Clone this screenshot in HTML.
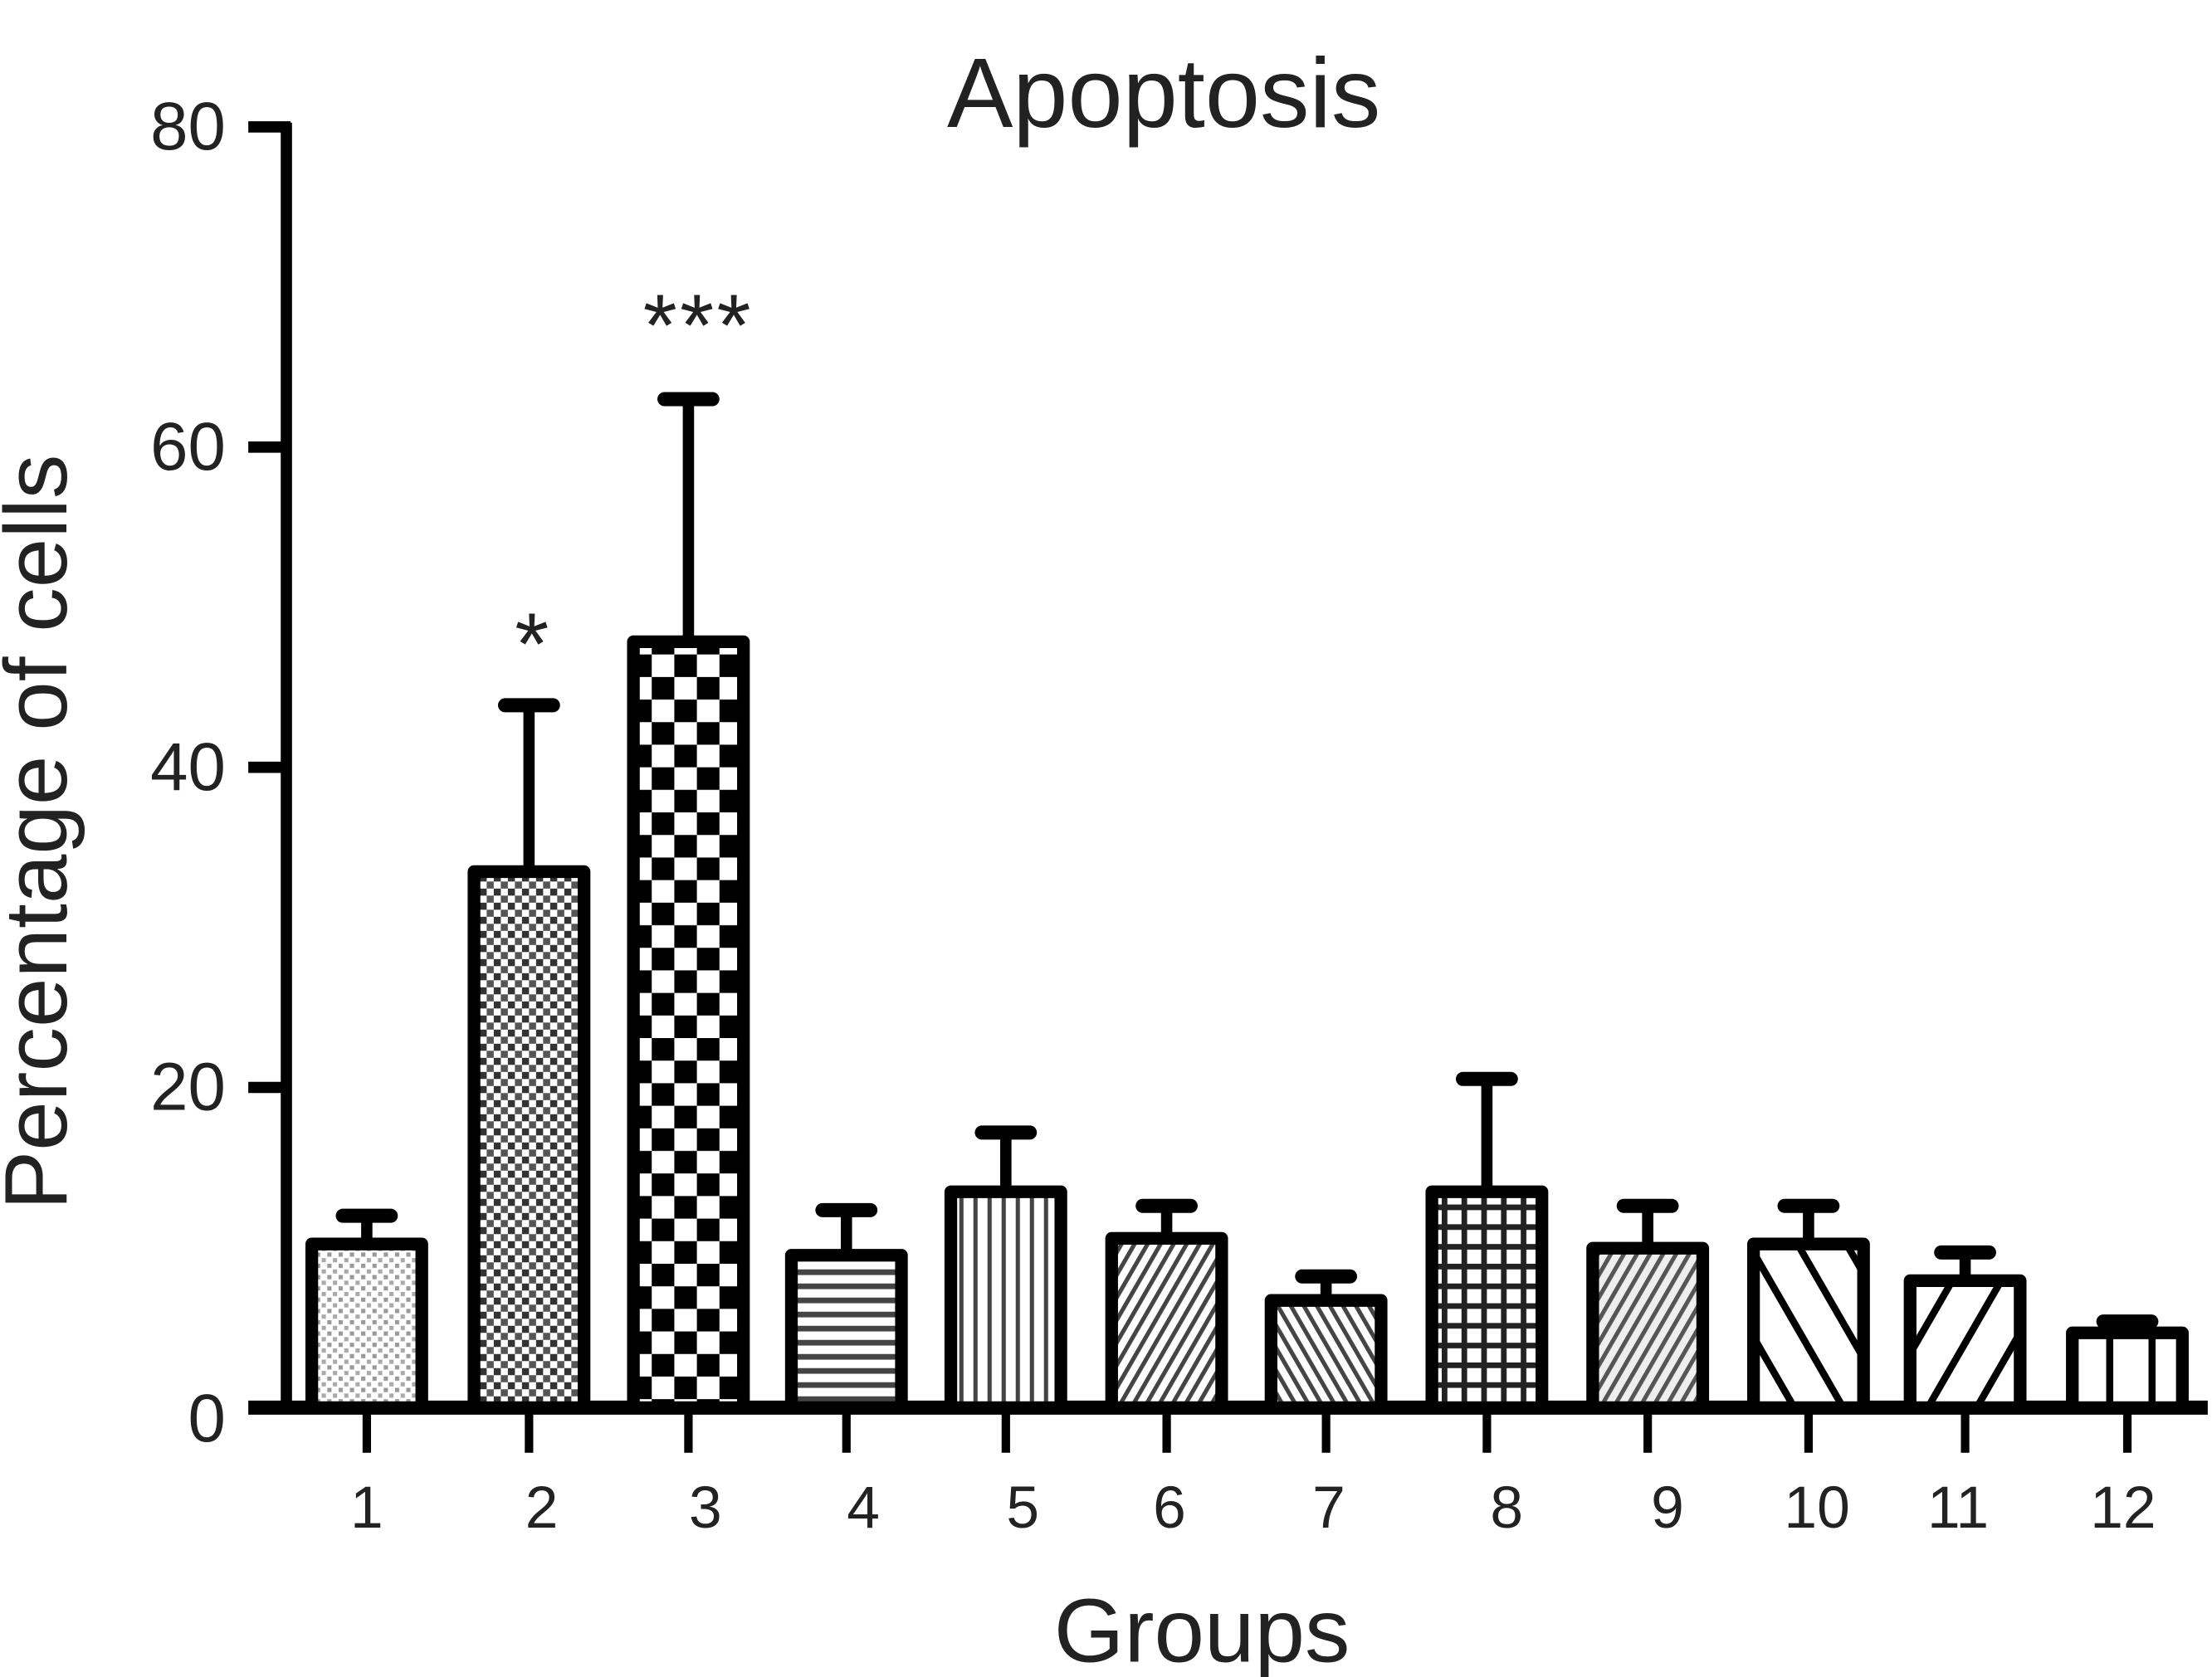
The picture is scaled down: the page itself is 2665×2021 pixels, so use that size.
<!DOCTYPE html>
<html><head><meta charset="utf-8"><style>
html,body{margin:0;padding:0;background:#fff;}
svg{display:block;}
text{font-family:"Liberation Sans",sans-serif;fill:#222;}
</style></head><body>
<svg width="2665" height="2021" viewBox="0 0 1568 1189" preserveAspectRatio="none" xmlns="http://www.w3.org/2000/svg">
<defs>
<pattern id="p1" width="8" height="8" patternUnits="userSpaceOnUse"><rect width="8" height="8" fill="#fff"/><rect width="3" height="3" fill="#999"/><rect x="4" y="4" width="3" height="3" fill="#aaa"/></pattern>
<pattern id="p2" width="10" height="10" patternUnits="userSpaceOnUse"><rect width="10" height="10" fill="#fff"/><rect width="5" height="5" fill="#333"/><rect x="5" y="5" width="5" height="5" fill="#555"/></pattern>
<pattern id="p3" width="32" height="32" patternUnits="userSpaceOnUse" x="462"><rect width="32" height="32" fill="#fff"/><rect width="16" height="16" fill="#000"/><rect x="16" y="16" width="16" height="16" fill="#000"/></pattern>
<pattern id="p4" width="10" height="10" patternUnits="userSpaceOnUse"><rect width="10" height="10" fill="#fff"/><rect y="0" width="10" height="4" fill="#444"/></pattern>
<pattern id="p5" width="10" height="10" patternUnits="userSpaceOnUse"><rect width="10" height="10" fill="#fff"/><rect x="0" width="3" height="10" fill="#444"/></pattern>
<pattern id="p6" width="8" height="8" patternUnits="userSpaceOnUse" patternTransform="rotate(30)"><rect width="8" height="8" fill="#fff"/><rect width="3" height="8" fill="#444"/></pattern>
<pattern id="p7" width="8" height="8" patternUnits="userSpaceOnUse" patternTransform="rotate(-30)"><rect width="8" height="8" fill="#fff"/><rect width="3" height="8" fill="#444"/></pattern>
<pattern id="p8" width="14" height="14" patternUnits="userSpaceOnUse"><rect width="14" height="14" fill="#fff"/><rect width="4" height="14" fill="#222"/><rect width="14" height="4" fill="#222"/></pattern>
<pattern id="p9" width="8" height="8" patternUnits="userSpaceOnUse" patternTransform="rotate(30)"><rect width="8" height="8" fill="#eee"/><rect width="3" height="8" fill="#555"/></pattern>
<pattern id="p10" width="30" height="30" patternUnits="userSpaceOnUse" patternTransform="rotate(-30)"><rect width="30" height="30" fill="#fff"/><rect width="5" height="30" fill="#000"/></pattern>
<pattern id="p11" width="30" height="30" patternUnits="userSpaceOnUse" patternTransform="rotate(30)"><rect width="30" height="30" fill="#fff"/><rect width="5" height="30" fill="#000"/></pattern>
<pattern id="p12" width="30" height="30" patternUnits="userSpaceOnUse" x="1493"><rect width="30" height="30" fill="#fff"/><rect width="5" height="30" fill="#000"/></pattern>
</defs>
<text x="825" y="90" font-size="70" text-anchor="middle">Apoptosis</text>
<g font-size="48" text-anchor="end">
<text x="160" y="106">80</text><text x="160" y="333">60</text><text x="160" y="560">40</text><text x="160" y="787">20</text><text x="160" y="1022">0</text>
</g>
<g stroke="#000" stroke-width="8" fill="none">
<line x1="203" y1="87" x2="203" y2="1001"/>
<line x1="176" y1="90" x2="206" y2="90"/><line x1="176" y1="317" x2="206" y2="317"/><line x1="176" y1="544" x2="206" y2="544"/><line x1="176" y1="771" x2="206" y2="771"/>
<line x1="176" y1="998" x2="1565" y2="998" stroke-width="10"/>
</g>
<g stroke="#000" stroke-width="6">
<line x1="260" y1="998" x2="260" y2="1030"/><line x1="375" y1="998" x2="375" y2="1030"/><line x1="488" y1="998" x2="488" y2="1030"/><line x1="600" y1="998" x2="600" y2="1030"/><line x1="713" y1="998" x2="713" y2="1030"/><line x1="827" y1="998" x2="827" y2="1030"/><line x1="940" y1="998" x2="940" y2="1030"/><line x1="1054" y1="998" x2="1054" y2="1030"/><line x1="1168" y1="998" x2="1168" y2="1030"/><line x1="1282" y1="998" x2="1282" y2="1030"/><line x1="1393" y1="998" x2="1393" y2="1030"/><line x1="1508" y1="998" x2="1508" y2="1030"/>
</g>
<g stroke="#000" stroke-width="9" stroke-linejoin="round">
<g stroke-width="8">
<line x1="260" y1="882" x2="260" y2="862"/><line x1="243" y1="862" x2="277" y2="862" stroke-width="10" stroke-linecap="round"/>
<line x1="375" y1="618" x2="375" y2="500"/><line x1="358" y1="500" x2="392" y2="500" stroke-width="10" stroke-linecap="round"/>
<line x1="488" y1="455" x2="488" y2="283"/><line x1="471" y1="283" x2="505" y2="283" stroke-width="10" stroke-linecap="round"/>
<line x1="600" y1="890" x2="600" y2="858"/><line x1="583" y1="858" x2="617" y2="858" stroke-width="10" stroke-linecap="round"/>
<line x1="713" y1="845" x2="713" y2="803"/><line x1="696" y1="803" x2="730" y2="803" stroke-width="10" stroke-linecap="round"/>
<line x1="827" y1="878" x2="827" y2="855"/><line x1="810" y1="855" x2="844" y2="855" stroke-width="10" stroke-linecap="round"/>
<line x1="940" y1="922" x2="940" y2="905"/><line x1="923" y1="905" x2="957" y2="905" stroke-width="10" stroke-linecap="round"/>
<line x1="1054" y1="845" x2="1054" y2="765"/><line x1="1037" y1="765" x2="1071" y2="765" stroke-width="10" stroke-linecap="round"/>
<line x1="1168" y1="885" x2="1168" y2="855"/><line x1="1151" y1="855" x2="1185" y2="855" stroke-width="10" stroke-linecap="round"/>
<line x1="1282" y1="882" x2="1282" y2="855"/><line x1="1265" y1="855" x2="1299" y2="855" stroke-width="10" stroke-linecap="round"/>
<line x1="1393" y1="908" x2="1393" y2="888"/><line x1="1376" y1="888" x2="1410" y2="888" stroke-width="10" stroke-linecap="round"/>
<line x1="1508" y1="945" x2="1508" y2="937"/><line x1="1491" y1="937" x2="1525" y2="937" stroke-width="10" stroke-linecap="round"/>
</g>
<rect x="221" y="882" width="78" height="116" fill="url(#p1)"/>
<rect x="336" y="618" width="78" height="380" fill="url(#p2)"/>
<rect x="449" y="455" width="78" height="543" fill="url(#p3)"/>
<rect x="561" y="890" width="78" height="108" fill="url(#p4)"/>
<rect x="674" y="845" width="78" height="153" fill="url(#p5)"/>
<rect x="788" y="878" width="78" height="120" fill="url(#p6)"/>
<rect x="901" y="922" width="78" height="76" fill="url(#p7)"/>
<rect x="1015" y="845" width="78" height="153" fill="url(#p8)"/>
<rect x="1129" y="885" width="78" height="113" fill="url(#p9)"/>
<rect x="1243" y="882" width="78" height="116" fill="url(#p10)"/>
<rect x="1354" y="908" width="78" height="90" fill="url(#p11)"/>
<rect x="1469" y="945" width="78" height="53" fill="url(#p12)"/>
</g>
<g font-size="62" text-anchor="middle" fill="#333" letter-spacing="2">
<text x="378" y="478">*</text>
<text x="495" y="252">***</text>
</g>
<g font-size="42" text-anchor="middle">
<text x="260" y="1083">1</text><text x="384" y="1083">2</text><text x="500" y="1083">3</text><text x="612" y="1083">4</text><text x="725" y="1083">5</text><text x="829" y="1083">6</text><text x="942" y="1083">7</text><text x="1068" y="1083">8</text><text x="1182" y="1083">9</text><text x="1288" y="1083">10</text><text x="1388" y="1083">11</text><text x="1505" y="1083">12</text>
</g>
<text x="852" y="1178" font-size="64" text-anchor="middle">Groups</text>
<text transform="translate(47,590) rotate(-90)" font-size="63" text-anchor="middle">Percentage of cells</text>
</svg>
</body></html>
